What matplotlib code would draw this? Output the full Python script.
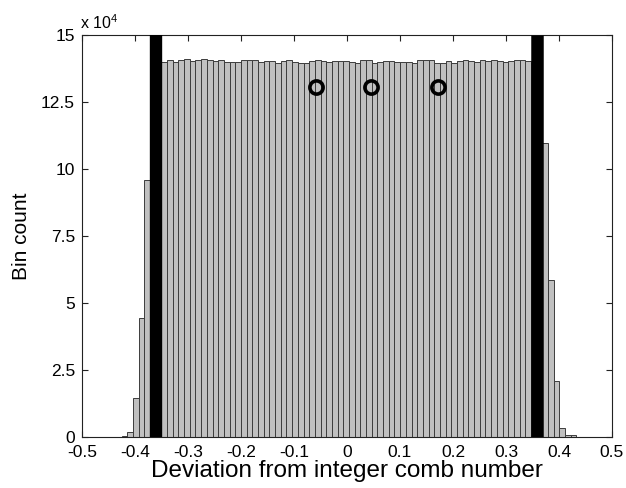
import numpy as np
import matplotlib
matplotlib.use("Agg")
import matplotlib.pyplot as plt

plt.rcParams['font.family'] = ['Liberation Sans', 'DejaVu Sans']
plt.rcParams['mathtext.fontset'] = 'custom'
plt.rcParams['mathtext.rm'] = 'Liberation Sans'

# ---- data ----
bin_start = -0.42534
bin_width = 0.010728
left_tail = [500, 1800, 14500, 44300, 95800, 125000, 140000]
plateau = [139900, 140700, 139900, 140700, 140900, 140300, 140700, 140900, 140700, 140300,
           140500, 139900, 139900, 139900, 140700, 140700, 140700, 140100, 140300, 140300,
           139700, 140300,
           140700, 139900, 139700, 139700, 140300, 140700, 140300, 139900, 140300, 140300,
           140300, 139900, 139700, 140700, 140700, 139400, 139900, 140300, 140300, 139900,
           139900, 139900,
           139700, 140700, 140700, 140700, 139700, 139700, 140300, 139700, 140300, 140700,
           140300, 139900, 140700, 140300, 140700, 140300, 139900, 140300, 140700, 140700,
           140300]
right_tail = [140000, 110000, 109800, 58500, 21000, 3500, 700, 700]
counts = np.array(left_tail + plateau + right_tail, dtype=float)

marker_lines_x = [-0.36104, 0.35802]
marker_lines_w = [8.9, 9.0]
circle_x = [-0.0585, 0.0453, 0.1723]
circle_y = [130700, 130700, 130600]

x_ticks = [-0.5, -0.4, -0.3, -0.2, -0.1, 0, 0.1, 0.2, 0.3, 0.4, 0.5]
x_tick_labels = ['-0.5', '-0.4', '-0.3', '-0.2', '-0.1', '0', '0.1', '0.2', '0.3', '0.4', '0.5']
y_ticks = [0, 25000, 50000, 75000, 100000, 125000, 150000]
y_tick_labels = ['0', '2.5', '5', '7.5', '10', '12.5', '15']

# ---- plot ----
fig = plt.figure(figsize=(6.26, 4.88), dpi=100)
ax = fig.add_axes([82 / 626, 1 - 437 / 488, (612 - 82) / 626, (437 - 35) / 488])

edges = bin_start + bin_width * np.arange(len(counts) + 1)
centers = (edges[:-1] + edges[1:]) / 2
ax.bar(centers, counts, width=bin_width, color='#c0c0c0', edgecolor='#3c3c3c',
       linewidth=0.7, zorder=2)

for xv, lw in zip(marker_lines_x, marker_lines_w):
    ax.axvline(xv, color='black', linewidth=lw, solid_capstyle='butt', zorder=3)

ax.plot(circle_x, circle_y, linestyle='none', marker='o', markersize=9.5,
        markerfacecolor='none', markeredgecolor='black', markeredgewidth=2.6, zorder=4)

ax.set_xlim(-0.5, 0.5)
ax.set_ylim(0, 150000)
ax.set_xticks(x_ticks)
ax.set_xticklabels(x_tick_labels)
ax.set_yticks(y_ticks)
ax.set_yticklabels(y_tick_labels)
ax.tick_params(direction='in', length=4.5, width=0.8, colors='#222222', labelcolor='black',
               labelsize=12.5, top=True, right=True)
ax.tick_params(axis='x', pad=6)
ax.tick_params(axis='y', pad=5)
for s in ax.spines.values():
    s.set_linewidth(0.8)
    s.set_color('#222222')

ax.set_xlabel('Deviation from integer comb number', fontsize=17.5, labelpad=0)
ax.set_ylabel('Bin count', fontsize=15, labelpad=7)
ax.text(-0.003, 1.008, r'x 10$^{\mathregular{4}}$', transform=ax.transAxes,
        fontsize=11.5, ha='left', va='bottom')

fig.savefig('out.png', dpi=100)
